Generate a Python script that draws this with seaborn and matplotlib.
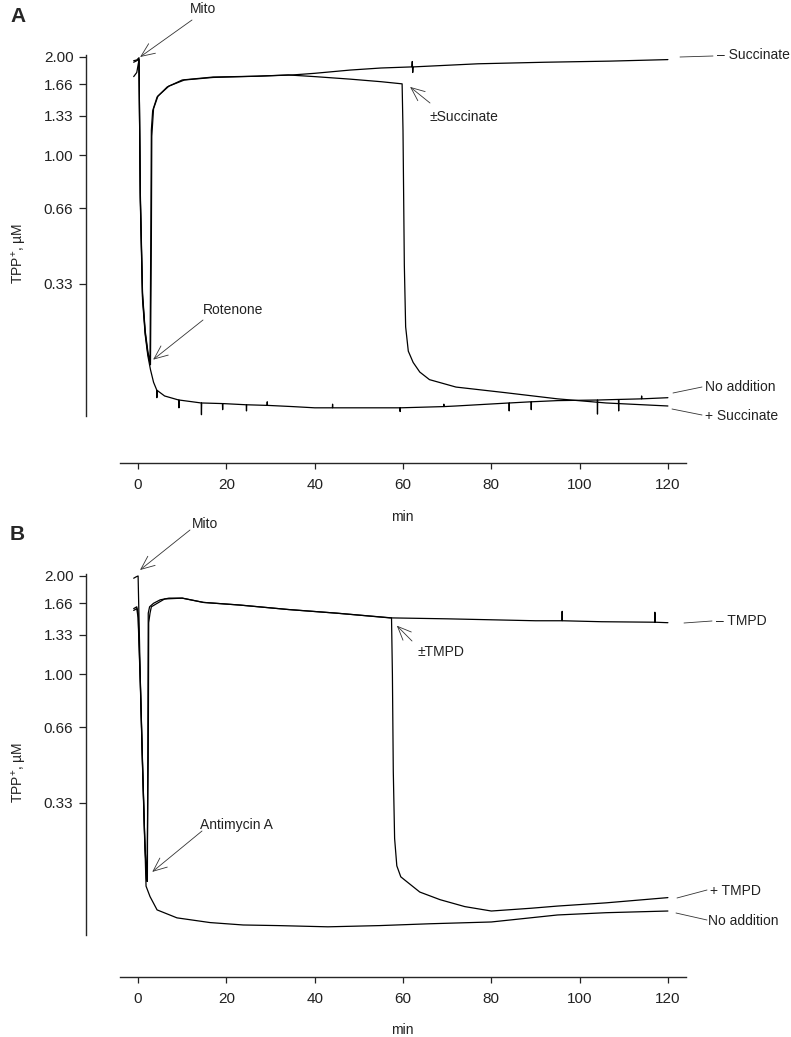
import numpy as np
import pandas as pd
import seaborn as sns
import matplotlib.pyplot as plt
from matplotlib.ticker import NullLocator

sns.set_style("ticks")
plt.rcParams["font.family"] = ["Liberation Sans", "DejaVu Sans"]
plt.rcParams["font.size"] = 10

# ---- data (min, uM) ----
# Panel A
a_none_t = [-1.0, -0.3, 0.2, 0.5, 1.0, 1.6, 2.2, 2.8, 3.5, 4.2, 4.25, 4.3, 6.0, 9.2, 9.25, 9.3,
            14.3, 14.35, 14.4, 19.1, 19.15, 19.2, 24.5, 24.55, 24.6, 29.2, 29.25, 29.3, 35, 40,
            44.0, 44.05, 44.1, 50, 59.3, 59.35, 59.4, 69.2, 69.25, 69.3, 72, 84.0, 84.05, 84.1,
            89.0, 89.05, 89.1, 95, 104.0, 104.05, 104.1, 108.8, 108.85, 108.9, 114.0, 114.05, 114.1, 120]
a_none_c = [1.95, 1.96, 1.99, 0.70, 0.28, 0.18, 0.13, 0.10, 0.075, 0.061, 0.047, 0.060, 0.050, 0.043, 0.030, 0.043,
            0.038, 0.019, 0.038, 0.037, 0.027, 0.037, 0.035, 0.025, 0.035, 0.034, 0.040, 0.034, 0.032, 0.030,
            0.030, 0.036, 0.030, 0.030, 0.030, 0.024, 0.030, 0.032, 0.036, 0.032, 0.033, 0.038, 0.025, 0.038,
            0.040, 0.027, 0.040, 0.042, 0.043, 0.020, 0.043, 0.044, 0.025, 0.044, 0.045, 0.050, 0.045, 0.047]

a_minus_t = [-1.0, -0.3, 0.2, 0.5, 1.0, 1.6, 2.2, 2.7, 2.9, 3.0, 3.3, 4.3, 6.6, 10, 17, 27, 35, 40, 48, 55,
             62.0, 62.1, 62.2, 62.3, 77, 92, 107, 120]
a_minus_c = [1.93, 1.95, 1.97, 0.75, 0.30, 0.19, 0.14, 0.115, 0.6, 1.20, 1.38, 1.52, 1.63, 1.71, 1.745, 1.755, 1.77,
             1.79, 1.83, 1.856, 1.87, 1.94, 1.80, 1.87, 1.91, 1.93, 1.945, 1.965]

a_pm_t = [-1.0, -0.3, 0.2, 0.5, 1.0, 1.6, 2.2, 2.8, 3.0, 3.1, 3.5, 4.5, 7, 10.5, 17, 27, 34, 40, 48, 55, 59.8,
          60.0, 60.3, 60.6, 61.2, 62.3, 63.8, 66, 72, 83, 95, 106, 120]
a_pm_c = [1.75, 1.80, 1.96, 0.72, 0.29, 0.185, 0.135, 0.11, 0.5, 1.15, 1.40, 1.53, 1.64, 1.71, 1.74, 1.755, 1.77,
          1.75, 1.72, 1.69, 1.665, 1.2, 0.4, 0.2, 0.14, 0.115, 0.095, 0.080, 0.066, 0.056, 0.045, 0.038, 0.033]

# Panel B
b_none_t = [-1.0, -0.4, 0.0, 0.5, 1.0, 1.5, 1.8, 2.7, 4.3, 8.8, 16.3, 23.8, 31.7, 43, 54.7, 66, 80, 95, 106, 120]
b_none_c = [1.97, 1.99, 2.00, 0.96, 0.49, 0.22, 0.105, 0.084, 0.059, 0.045, 0.037, 0.033, 0.032, 0.030, 0.032,
            0.035, 0.038, 0.050, 0.054, 0.057]

b_minus_t = [-1.0, -0.3, 0.0, 0.5, 1.0, 1.5, 1.9, 2.1, 2.2, 2.3, 2.6, 3.5, 5, 7, 10, 14.8, 23, 34, 45, 57, 70, 80,
             90, 96.0, 96.05, 96.1, 105, 117.0, 117.05, 117.1, 120]
b_minus_c = [1.60, 1.62, 1.55, 0.95, 0.48, 0.22, 0.12, 0.115, 0.6, 1.55, 1.62, 1.66, 1.70, 1.72, 1.72, 1.67, 1.64,
             1.59, 1.55, 1.50, 1.49, 1.48, 1.47, 1.47, 1.57, 1.47, 1.46, 1.455, 1.56, 1.455, 1.45]

b_pm_t = [-1.0, -0.3, 0.0, 0.5, 1.0, 1.5, 2.0, 2.3, 2.4, 2.7, 3.0, 4, 6, 10, 14.8, 23, 34, 45, 57.4, 57.6, 57.8,
          58.1, 58.6, 59.5, 60.4, 63.8, 68.4, 74, 80, 89, 95, 106, 120]
b_pm_c = [1.58, 1.60, 1.50, 0.93, 0.47, 0.21, 0.115, 0.5, 1.45, 1.55, 1.62, 1.65, 1.71, 1.72, 1.67, 1.64, 1.59,
          1.55, 1.50, 1.0, 0.45, 0.22, 0.15, 0.125, 0.118, 0.093, 0.078, 0.065, 0.057, 0.062, 0.066, 0.072, 0.082]

y_ticks = [0.33, 0.66, 1.00, 1.33, 1.66, 2.00]
y_ticklabels = ["0.33", "0.66", "1.00", "1.33", "1.66", "2.00"]
x_ticks = [0, 20, 40, 60, 80, 100, 120]

W, H = 791, 1037


def fwd(c):
    return np.log10(np.maximum(np.asarray(c, dtype=float) + 0.24, 1e-3))


def inv(v):
    return 10 ** np.asarray(v, dtype=float) - 0.24


def fp(x, y):
    # figure pixels measured from the top-left
    return (x, H - y)


fig = plt.figure(figsize=(W / 100, H / 100), dpi=100)
axA = fig.add_axes([120 / W, 1 - 416 / H, 566 / W, 361 / H])
axB = fig.add_axes([120 / W, 1 - 935 / H, 566 / W, 361 / H])

panels = [
    (axA, [(a_none_t, a_none_c), (a_minus_t, a_minus_c), (a_pm_t, a_pm_c)], 33.8, -0.28),
    (axB, [(b_none_t, b_none_c), (b_minus_t, b_minus_c), (b_pm_t, b_pm_c)], 30.2, -0.263),
]

for ax, traces, xoff, xlab_y in panels:
    for t, c in traces:
        df = pd.DataFrame({"min": t, "TPP": c})
        sns.lineplot(data=df, x="min", y="TPP", ax=ax, color="black", lw=0.9,
                     estimator=None, sort=False)
    ax.set_yscale("function", functions=(fwd, inv))
    ax.set_ylim(0.017, 2.027)
    ax.set_xlim(-4.1, 124.1)
    ax.set_yticks(y_ticks)
    ax.set_yticklabels(y_ticklabels)
    ax.yaxis.set_minor_locator(NullLocator())
    ax.set_xticks(x_ticks)
    sns.despine(ax=ax)
    ax.spines["left"].set_position(("outward", 24.5))
    ax.spines["bottom"].set_position(("outward", xoff))
    for s in ("left", "bottom"):
        ax.spines[s].set_linewidth(1.0)
    ax.tick_params(axis="y", length=5, width=0.9, pad=4, labelsize=11, colors="#222222")
    ax.tick_params(axis="x", length=4, width=0.9, pad=7, labelsize=11, colors="#222222")
    ax.set_xlabel("min", fontsize=10, color="#222222")
    ax.set_ylabel("TPP$^{\\mathregular{+}}$, µM", fontsize=10, color="#222222")
    ax.xaxis.label.set_verticalalignment("center")
    ax.yaxis.label.set_verticalalignment("center")
    ax.xaxis.set_label_coords(0.498, xlab_y)
    ax.yaxis.set_label_coords(-0.1767, 0.45)
    ax.set_facecolor("none")

arrow = dict(arrowstyle="->,head_length=0.7,head_width=0.3", lw=0.6, color="#333333",
             shrinkA=0, shrinkB=0, mutation_scale=14)


def ftext(x, y, s, **kw):
    fig.text(x / W, 1 - y / H, s, va="center", fontsize=10, color="#222222", **kw)


# Panel A annotations
fig.text(10 / W, 1 - 16 / H, "A", fontsize=15, fontweight="bold", va="center")
ftext(203, 9, "Mito", ha="center")
axA.annotate("", xy=(0.45, 2.0), xytext=fp(192, 20), textcoords="figure pixels",
             arrowprops=arrow, annotation_clip=False)
ftext(203, 310, "Rotenone")
axA.annotate("", xy=(3.4, 0.121), xytext=fp(203, 320), textcoords="figure pixels",
             arrowprops=arrow, annotation_clip=False)
ftext(430, 117, "±Succinate")
axA.annotate("", xy=(61.6, 1.63), xytext=fp(430, 103), textcoords="figure pixels",
             arrowprops=arrow, annotation_clip=False)
for (x0, y0, x1, y1), (tx, ty, s) in [((680, 57, 713, 56), (717, 55, "– Succinate")),
                                      ((673, 393, 702, 387), (705, 387, "No addition")),
                                      ((672, 409, 702, 415), (705, 416, "+ Succinate"))]:
    fig.add_artist(plt.Line2D([x0 / W, x1 / W], [1 - y0 / H, 1 - y1 / H], lw=0.6, color="#333333"))
    ftext(tx, ty, s)

# Panel B annotations
fig.text(10 / W, 1 - 535 / H, "B", fontsize=15, fontweight="bold", va="center")
ftext(205, 524, "Mito", ha="center")
axB.annotate("", xy=fp(140, 570), xycoords="figure pixels", xytext=fp(190, 530),
             textcoords="figure pixels", arrowprops=arrow, annotation_clip=False)
ftext(200, 825, "Antimycin A")
axB.annotate("", xy=(3.2, 0.136), xytext=fp(202, 831), textcoords="figure pixels",
             arrowprops=arrow, annotation_clip=False)
ftext(417, 652, "±TMPD")
axB.annotate("", xy=(58.6, 1.42), xytext=fp(412, 641), textcoords="figure pixels",
             arrowprops=arrow, annotation_clip=False)
for (x0, y0, x1, y1), (tx, ty, s) in [((684, 623, 712, 621), (716, 621, "– TMPD")),
                                      ((677, 898, 707, 890), (710, 891, "+ TMPD")),
                                      ((676, 913, 707, 920), (708, 921, "No addition"))]:
    fig.add_artist(plt.Line2D([x0 / W, x1 / W], [1 - y0 / H, 1 - y1 / H], lw=0.6, color="#333333"))
    ftext(tx, ty, s)

fig.savefig("out.png", dpi=100, facecolor="white")
